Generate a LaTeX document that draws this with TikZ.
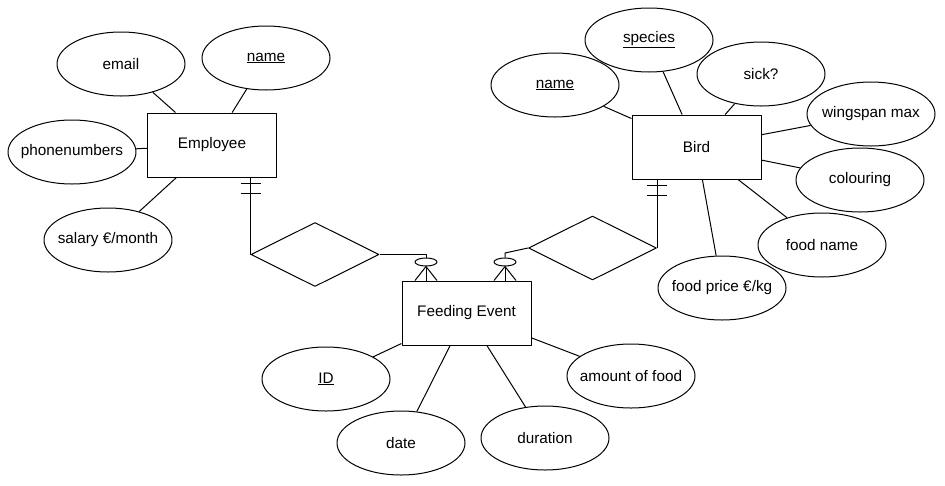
\documentclass[tikz,border=0pt]{standalone}
\usepackage{fontspec}
\setmainfont{Liberation Sans}
\usetikzlibrary{shapes.geometric,calc}
\begin{document}
\begin{tikzpicture}[x=1pt,y=-1pt,line join=round,line width=1pt]
	\tikzset{label font/.style={font=\fontsize{15.3}{18}\selectfont},
		entity box/.style={draw,rectangle,minimum width=129pt,minimum height=64pt,inner sep=0pt,label font},
		attr oval/.style={draw,ellipse,minimum width=128pt,minimum height=64pt,inner xsep=-30pt,inner ysep=0pt,label font},
		rel box/.style={draw,diamond,aspect=2,minimum width=128pt,minimum height=64pt,inner sep=0pt},
		opt oval/.style={draw,ellipse,minimum width=22pt,minimum height=8pt,inner sep=0pt}}
	\useasboundingbox (0,0) rectangle (945,485);
	\node[entity box] (emp) at (212,145) {Employee};
	\node[entity box] (bird) at (696.5,147) {Bird};
	\node[entity box] (fe) at (466.5,313) {Feeding Event};
	\node[attr oval] (email) at (121,64) {email};
	\node[attr oval] (ename) at (266,58) {\underline{name}};
	\node[attr oval] (phone) at (72,152) {phonenumbers};
	\node[attr oval] (salary) at (108,240) {salary €/month};
	\node[attr oval] (bname) at (555,85) {\underline{name}};
	\node[attr oval] (species) at (649,40) {\underline{species}};
	\node[attr oval] (sick) at (761,74) {sick?};
	\node[attr oval] (wing) at (871,114) {wingspan max};
	\node[attr oval] (colour) at (860,180) {colouring};
	\node[attr oval] (foodname) at (822,245) {food name};
	\node[attr oval] (foodprice) at (722,288) {food price €/kg};
	\node[attr oval] (id) at (326,379) {\underline{ID}};
	\node[attr oval] (date) at (401,443) {date};
	\node[attr oval] (dur) at (545,438) {duration};
	\node[attr oval] (amount) at (631,376) {amount of food};
	\draw (email)--(emp) (ename)--(emp) (phone)--(emp) (salary)--(emp);
	\draw (bname)--(bird) (species)--(bird) (sick)--(bird) (wing)--(bird)
		(colour)--(bird) (foodname)--(bird) (foodprice)--(bird);
	\draw (id)--(fe) (date)--(fe) (dur)--(fe) (amount)--(fe);
	\node[rel box] (feeds) at (315,254.5) {};
	\node[rel box] (eats) at (592.5,248) {};
	\node[opt oval] (opt1) at (426,262) {};
	\node[opt oval] (opt2) at (505,262) {};
	\coordinate (bend2) at (505,253);
	\draw (emp.south -| feeds.west)--(feeds.west);
	\draw (bird.south -| eats.east)--(eats.east);
	\foreach \dy in {6,16} \draw ($(emp.south -| feeds.west)+(-10,\dy)$)--++(20,0);
	\foreach \dy in {6,15.5} \draw ($(bird.south -| eats.east)+(-10,\dy)$)--++(20,0);
	\draw (feeds.east) -| (opt1.north);
	\draw (eats.west)--(bend2)--(opt2.north);
	\foreach \o in {opt1,opt2}
		\foreach \dx in {-11,0,11}
			\draw (\o.south)--($(\o.south |- fe.north)+(\dx,0)$);
\end{tikzpicture}
\end{document}
